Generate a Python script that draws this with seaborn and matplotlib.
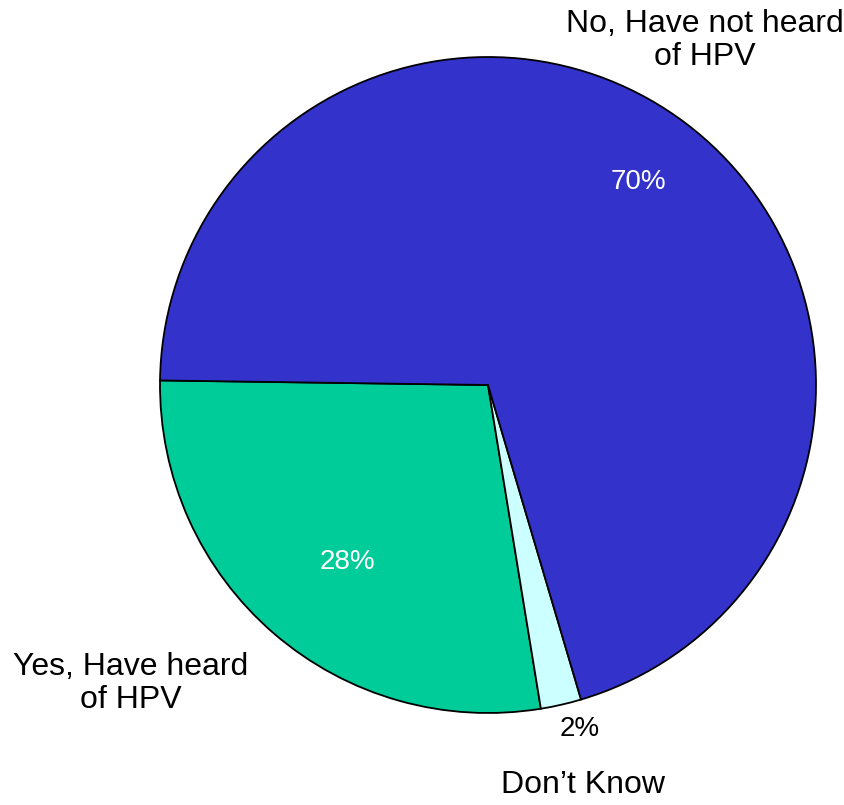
import matplotlib
matplotlib.use("Agg")
import matplotlib.pyplot as plt
import seaborn as sns

sns.set_theme(style="white")
plt.rcParams['font.family'] = ['Liberation Sans', 'DejaVu Sans']

# donnees
categories = ["Yes, Have heard\nof HPV", "Don\u2019t Know", "No, Have not heard\nof HPV"]
valeurs = [27.8, 2.0, 70.2]
couleurs = ["#00CC99", "#CCFFFF", "#3333CC"]
couleurs_pct = ["white", "black", "white"]

fig = plt.figure(figsize=(8.45, 8.05), dpi=100)
ax = fig.add_axes([0, 0, 1, 1])

wedges, textes, pcts = ax.pie(
    valeurs, colors=couleurs, startangle=179.2, counterclock=True,
    autopct='%1.0f%%', labels=categories,
    wedgeprops=dict(edgecolor='black', linewidth=1.3),
    textprops=dict(fontsize=23, color='black'),
)

# position des labels (rayon relatif au cercle)
pos_labels = [(-1.09, -0.91), (0.29, -1.22), (0.66, 1.05)]
for t, (x, y) in zip(textes, pos_labels):
    t.set_position((x, y))
    t.set_ha('center')
    t.set_va('center')
    t.set_linespacing(1.15)

pos_pct = [(-0.43, -0.54), (0.28, -1.05), (0.46, 0.62)]
for p, (x, y), c in zip(pcts, pos_pct, couleurs_pct):
    p.set_position((x, y))
    p.set_color(c)
    p.set_fontsize(20)
    p.set_ha('center')
    p.set_va('center')

ax.set_aspect('auto')
ax.set_xlim(-488 / 328, (845 - 488) / 328)
ax.set_ylim(-420 / 328, 385 / 328)
ax.axis('off')

plt.savefig("out.png", dpi=100)
